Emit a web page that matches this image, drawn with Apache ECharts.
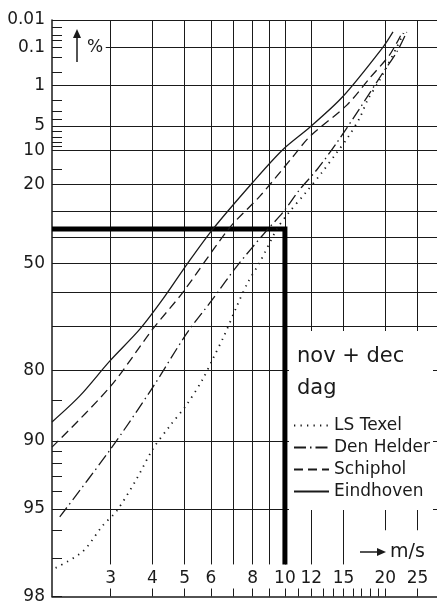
<!DOCTYPE html>
<html>
<head>
<meta charset="utf-8">
<script src="https://cdn.jsdelivr.net/npm/echarts@6/dist/echarts.min.js"></script>
<style>
  html, body { margin: 0; padding: 0; background: #fff; }
  #chart { width: 437px; height: 605px; }
</style>
</head>
<body>
<div id="chart"></div>
<script>
// Wind speed (m/s) against exceedance (%), nov + dec, daytime
const texelSpeed = [2.05, 2.47, 2.84, 3.13, 3.59, 4.01, 4.51, 5.08, 5.67, 6.07, 6.6, 7.17, 7.74, 8.4, 9.46, 10.2, 11.55, 12.9, 14.31, 15.45, 16.79, 17.74, 19.27, 21.68, 22.7];
const texelPct   = [97.3, 96.8, 95.8, 95.1, 93.2, 90.8, 88.4, 85.6, 81.6, 77.8, 72.1, 64.4, 56.7, 49.6, 36.8, 30.9, 22.9, 16.2, 10.5, 7.1, 3.8, 1.9, 0.76, 0.099, 0.033];

const denHelderSpeed = [2.11, 2.98, 3.98, 5.08, 6.07, 7.17, 8.89, 9.85, 11.08, 12.47, 14.31, 16.79, 19.67, 21.68, 23.2];
const denHelderPct   = [95.4, 90.9, 83.3, 71.8, 62.2, 51.0, 36.8, 30.4, 21.8, 15.3, 8.2, 2.7, 0.52, 0.14, 0.03];

const schipholSpeed = [2.0, 2.98, 4.01, 4.94, 6.83, 8.4, 10.56, 11.88, 15.34, 17.98, 20.64, 22.44];
const schipholPct   = [90.6, 83.0, 70.8, 60.0, 36.2, 24.3, 11.6, 6.9, 2.4, 0.69, 0.17, 0.033];

const eindhovenSpeed = [2.0, 2.42, 2.98, 3.67, 4.3, 5.08, 6.07, 8.0, 9.85, 11.9, 14.9, 19.7, 21.1];
const eindhovenPct   = [87.9, 84.4, 78.2, 70.8, 62.2, 50.3, 36.9, 19.4, 9.8, 5.2, 1.7, 0.1, 0.03];

// Axis ranges and tick sets
const speedMin = 2, speedMax = 28.6;
const pctTop = 0.01, pctBottom = 98;
const speedLabels = [3, 4, 5, 6, 8, 10, 12, 15, 20, 25];
const speedTicks  = [3, 4, 5, 6, 7, 8, 9, 10, 11, 12, 13, 14, 15, 16, 17, 18, 19, 20, 25];
const speedGrid   = [3, 4, 5, 6, 7, 8, 9, 10, 12, 15, 20, 25];
const pctLabels = [0.01, 0.1, 1, 5, 10, 20, 50, 80, 90, 95, 98];
const pctGrid   = [0.1, 1, 5, 10, 20, 30, 40, 50, 60, 70, 80, 90, 95];
const pctTicks  = [0.02, 0.04, 0.06, 0.2, 0.5, 2, 3, 4, 6, 7, 8, 9, 15, 85, 91, 92, 93, 94, 96, 97];

// Grid line extents
const gridEndPct = 97.2;       // vertical lines stop above the speed labels
const gridEndPctShort = 96;    // lines at 20 and 25 leave room for the unit
const percentLineStart = 2.9;  // 0.1 % line starts right of the "%" marker

// Weibull scale parameter marker: 1/e exceedance at 10 m/s
const refSpeed = 10;
const refPct = 100 / Math.E;

// Weibull probability paper: log speed vs ln(-ln(P))
const speedToX = u => Math.log10(u);
const pctToY = p => Math.log(-Math.log(p / 100));
const yToPct = v => 100 * Math.exp(-Math.exp(v));
const fmt = n => String(parseFloat(n.toPrecision(4)));

const FONT = 'DejaVu Sans';
const INK = '#1a1a1a';

const xMin = speedToX(speedMin), xMax = speedToX(speedMax);
const yMin = pctToY(pctBottom), yMax = pctToY(pctTop);

const seg = (x1, y1, x2, y2) => [{ coord: [x1, y1] }, { coord: [x2, y2] }];
const gridLines = [];
gridLines.push(seg(xMin, yMax, xMax, yMax));
pctGrid.forEach(p => {
  const start = p === 0.1 ? speedToX(percentLineStart) : xMin;
  gridLines.push(seg(start, pctToY(p), xMax, pctToY(p)));
});
speedGrid.forEach(u => {
  const end = u >= 20 ? gridEndPctShort : gridEndPct;
  gridLines.push(seg(speedToX(u), pctToY(end), speedToX(u), yMax));
});

const stations = [
  { name: 'LS Texel',   speed: texelSpeed,     pct: texelPct,     type: [1.3, 5.2], width: 1.8 },
  { name: 'Den Helder', speed: denHelderSpeed, pct: denHelderPct, type: [12, 4, 1.5, 4], width: 1.3 },
  { name: 'Schiphol',   speed: schipholSpeed,  pct: schipholPct,  type: [9, 5], width: 1.3 },
  { name: 'Eindhoven',  speed: eindhovenSpeed, pct: eindhovenPct, type: 'solid', width: 1.3 }
];

const series = [{
  type: 'line',
  data: [],
  silent: true,
  markLine: {
    silent: true,
    z: 1,
    animation: false,
    symbol: ['none', 'none'],
    label: { show: false },
    emphasis: { disabled: true },
    lineStyle: { color: INK, width: 1, type: 'solid' },
    data: gridLines
  }
}, {
  type: 'line',
  silent: true,
  symbol: 'none',
  z: 2,
  lineStyle: { color: '#000', width: 5, cap: 'butt', join: 'miter' },
  data: [
    [xMin, pctToY(refPct)],
    [speedToX(refSpeed), pctToY(refPct)],
    [speedToX(refSpeed), pctToY(gridEndPct)]
  ]
}];

stations.forEach(s => {
  series.push({
    type: 'line',
    name: s.name,
    silent: true,
    symbol: 'none',
    smooth: 0.3,
    z: 2,
    color: INK,
    itemStyle: { color: INK },
    lineStyle: { color: INK, width: s.width, type: s.type },
    data: s.speed.map((u, i) => [speedToX(u), pctToY(s.pct[i])])
  });
});

const chart = echarts.init(document.getElementById('chart'), null, { renderer: 'canvas' });
chart.setOption({
  animation: false,
  backgroundColor: '#fff',
  grid: { left: 52, top: 20, right: 0, bottom: 7 },
  xAxis: {
    type: 'value',
    min: xMin,
    max: xMax,
    axisLine: { show: true, onZero: false, lineStyle: { color: INK, width: 1.5 } },
    axisTick: {
      show: true, inside: true, length: 8,
      customValues: speedTicks.map(speedToX),
      lineStyle: { color: INK, width: 1 }
    },
    axisLabel: {
      inside: true, margin: 9,
      customValues: speedLabels.map(speedToX),
      formatter: v => fmt(Math.pow(10, v)),
      fontFamily: FONT, fontSize: 17, color: INK
    },
    splitLine: { show: false }
  },
  yAxis: {
    type: 'value',
    min: yMin,
    max: yMax,
    axisLine: { show: true, onZero: false, lineStyle: { color: INK, width: 1.5 } },
    axisTick: {
      show: true, inside: true, length: 10,
      customValues: pctTicks.concat(pctLabels).map(pctToY),
      lineStyle: { color: INK, width: 1 }
    },
    axisLabel: {
      margin: 7,
      customValues: pctLabels.map(pctToY),
      formatter: v => fmt(yToPct(v)),
      fontFamily: FONT, fontSize: 17, color: INK
    },
    splitLine: { show: false }
  },
  legend: {
    data: stations.map(s => s.name),
    orient: 'vertical',
    left: 293,
    top: 416,
    padding: 0,
    itemWidth: 35,
    itemHeight: 12,
    itemGap: 3,
    selectedMode: false,
    z: 6,
    itemStyle: { opacity: 0 },
    textStyle: { fontFamily: FONT, fontSize: 17, color: INK, lineHeight: 19 }
  },
  graphic: [
    // blank panel behind the legend
    { type: 'rect', z: 3, shape: { x: 289, y: 331, width: 144, height: 179 }, style: { fill: '#fff' }, silent: true },
    { type: 'text', z: 7, style: { text: 'nov + dec', x: 297, y: 357, font: '21px "DejaVu Sans"', fill: INK, verticalAlign: 'middle' } },
    { type: 'text', z: 7, style: { text: 'dag', x: 297, y: 389, font: '21px "DejaVu Sans"', fill: INK, verticalAlign: 'middle' } },
    // percentage axis marker
    { type: 'line', z: 7, shape: { x1: 77, y1: 62, x2: 77, y2: 36 }, style: { stroke: INK, lineWidth: 1.5 } },
    { type: 'polygon', z: 7, shape: { points: [[73, 38], [81, 38], [77, 29]] }, style: { fill: INK } },
    { type: 'text', z: 7, style: { text: '%', x: 87, y: 48, font: '17px "DejaVu Sans"', fill: INK, verticalAlign: 'middle' } },
    // speed axis marker
    { type: 'line', z: 7, shape: { x1: 360, y1: 552, x2: 379, y2: 552 }, style: { stroke: INK, lineWidth: 1.5 } },
    { type: 'polygon', z: 7, shape: { points: [[377, 548], [377, 556], [386, 552]] }, style: { fill: INK } },
    { type: 'text', z: 7, style: { text: 'm/s', x: 390, y: 552, font: '19px "DejaVu Sans"', fill: INK, verticalAlign: 'middle' } }
  ],
  series: series
});
</script>
</body>
</html>
